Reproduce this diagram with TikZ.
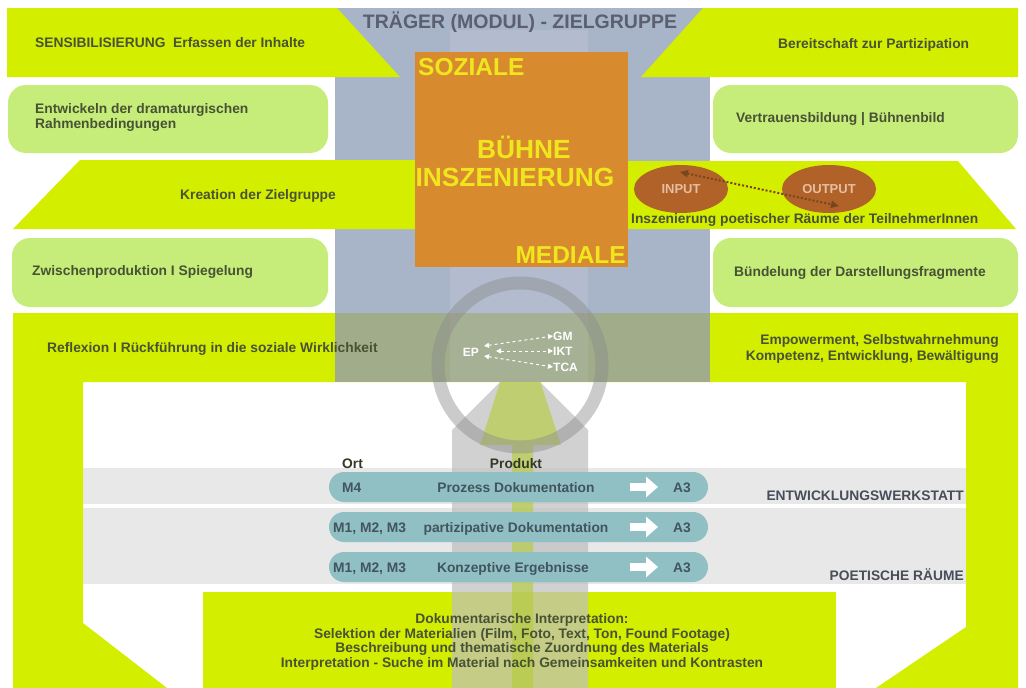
\documentclass[tikz,border=0pt]{standalone}
\usepackage{fontspec}
\setmainfont{Liberation Sans}
\usetikzlibrary{arrows.meta,shapes.geometric}
\definecolor{ygreen}{RGB}{212,238,0}
\definecolor{lgreen}{RGB}{198,236,122}
\definecolor{bband}{RGB}{168,180,200}
\definecolor{bbandlight}{RGB}{178,188,206}
\definecolor{overlapc}{RGB}{160,172,138}
\definecolor{overlaplight}{RGB}{166,176,148}
\definecolor{orangebox}{RGB}{216,138,46}
\definecolor{ytext}{RGB}{240,230,30}
\definecolor{dtext}{RGB}{72,82,52}
\definecolor{titletext}{RGB}{90,96,112}
\definecolor{brownell}{RGB}{176,98,40}
\definecolor{iotext}{RGB}{232,190,160}
\definecolor{dotc}{RGB}{120,70,30}
\definecolor{tealc}{RGB}{144,192,196}
\definecolor{tealtext}{RGB}{66,84,92}
\definecolor{lgrey}{RGB}{232,232,232}
\definecolor{colgrey}{RGB}{190,190,190}
\definecolor{arrowgreen}{RGB}{180,205,50}
\definecolor{ringgrey}{RGB}{140,140,140}
\begin{document}
\begin{tikzpicture}[x=1pt,y=-1pt,
  txt/.style={font=\bfseries\fontsize{13.8}{15}\selectfont, text=dtext, inner sep=0pt},
  bigt/.style={font=\bfseries\fontsize{24.5}{26}\selectfont, text=ytext, inner sep=0pt},
  bigger/.style={bigt, font=\bfseries\fontsize{26.3}{28}\selectfont},
  titlet/.style={font=\bfseries\fontsize{19.5}{22}\selectfont, text=titletext, inner sep=0pt},
  rbox/.style={fill=lgreen, rounded corners=18pt},
  pill/.style={fill=tealc, rounded corners=15pt},
  pilltxt/.style={font=\bfseries\fontsize{13.8}{15}\selectfont, text=tealtext, inner sep=0pt},
  greytxt/.style={font=\bfseries\fontsize{13.8}{15}\selectfont, text=titletext!80!black, inner sep=0pt},
  bottxt/.style={font=\bfseries\fontsize{13.8}{15}\selectfont, text=dtext, inner sep=0pt},
  ell/.style={ellipse, fill=brownell, minimum width=94pt, minimum height=48pt, inner sep=0pt,
     font=\bfseries\fontsize{13}{14}\selectfont, text=iotext},
  wtxt/.style={font=\bfseries\fontsize{12}{13}\selectfont, text=white, inner sep=0pt},
  blockarrow/.style={white, line width=8pt, -{Triangle[length=12pt,width=20pt]}},
  dasharrow/.style={white, dashed, line width=1pt, {Triangle[length=5pt,width=5pt]}-{Triangle[length=5pt,width=5pt]}}
]
\useasboundingbox (0,0) rectangle (1026,688);
\fill[white] (0,0) rectangle (1026,688);

% grey bars
\fill[lgrey] (83,468) rectangle (966,504);
\fill[lgrey] (83,508) rectangle (966,584);
% bottom yellow box
\fill[ygreen] (203,592) rectangle (836,688);

% grey column with arrow-like top (peace sign spokes)
\fill[colgrey, opacity=0.7] (452,688) -- (452,430) -- (520,362) -- (588,430) -- (588,688) -- cycle;
% yellow-green arrow
\fill[arrowgreen, opacity=0.6] (512,688) -- (512,445) -- (480,445) -- (520,320) -- (561,445) -- (533,445) -- (533,688) -- cycle;

% blue band
\fill[bband] (335,8) rectangle (710,313);
\fill[bbandlight] (450,30) rectangle (588,313);

% big reflexion shape
\fill[ygreen] (13,313) -- (1018,313) -- (1018,688) -- (876,688) -- (966,627) -- (966,382)
  -- (83,382) -- (83,623) -- (167,688) -- (13,688) -- cycle;
\fill[overlapc] (335,313) rectangle (710,382);
\fill[overlaplight] (450,313) rectangle (588,382);

% top shapes
\fill[ygreen] (7,8) -- (337,8) -- (400,77) -- (7,77) -- cycle;
\fill[ygreen] (703,8) -- (1018,8) -- (1018,77) -- (641,77) -- cycle;
\fill[rbox] (8,85) rectangle (328,153);
\fill[rbox] (713,85) rectangle (1018,153);
\fill[ygreen] (80,160) -- (420,160) -- (420,229) -- (13,229) -- cycle;
\fill[ygreen] (620,161) -- (958,161) -- (1016,229) -- (620,229) -- cycle;
\fill[rbox] (12,238) rectangle (328,307);
\fill[rbox] (713,238) rectangle (1018,307);

% orange box
\fill[orangebox] (415,52) rectangle (628,267);

% ring
\draw[ringgrey, opacity=0.45, line width=13pt] (520,365) circle[radius=82];

% pills
\fill[pill] (329,472) rectangle (708,502);
\fill[pill] (329,512) rectangle (708,542);
\fill[pill] (329,552) rectangle (708,582);

% texts
\node[titlet, anchor=base] (title) at (520,28) {TRÄGER (MODUL) - ZIELGRUPPE};
\node[txt, anchor=base west] (sens) at (35,47) {SENSIBILISIERUNG\ \ Erfassen der Inhalte};
\node[txt, anchor=base west] (bere) at (778,48) {Bereitschaft zur Partizipation};
\node[txt, anchor=base west] (entw1) at (35,113) {Entwickeln der dramaturgischen};
\node[txt, anchor=base west] (entw2) at (35,128) {Rahmenbedingungen};
\node[txt, anchor=base west] (vert) at (736,122) {Vertrauensbildung | Bühnenbild};
\node[txt, anchor=base west] (krea) at (180,199) {Kreation der Zielgruppe};
\node[txt, anchor=base west] (insz) at (631,223) {Inszenierung poetischer Räume der TeilnehmerInnen};
\node[txt, anchor=base west] (zwis) at (32,275) {Zwischenproduktion I Spiegelung};
\node[txt, anchor=base west] (buen) at (734,276) {Bündelung der Darstellungsfragmente};
\node[txt, anchor=base west] (refl) at (47,352) {Reflexion I Rückführung in die soziale Wirklichkeit};
\node[txt, anchor=base east] (emp1) at (999,344) {Empowerment, Selbstwahrnehmung};
\node[txt, anchor=base east] (emp2) at (999,360) {Kompetenz, Entwicklung, Bewältigung};

\node[bigt, anchor=base west] (soz) at (418,75) {SOZIALE};
\node[bigger, anchor=base] (bue) at (524,158) {BÜHNE};
\node[bigger, anchor=base] (insc) at (515,186) {INSZENIERUNG};
\node[bigt, anchor=base east] (med) at (626,263) {MEDIALE};

% input / output
\node[ell] (inp) at (681,189) {INPUT};
\node[ell] (outp) at (829,189) {OUTPUT};
\coordinate (ioA) at (680,172);
\coordinate (ioB) at (839,206);
\draw[dotc, line width=2pt, dotted, {Triangle[length=8pt,width=7pt]}-{Triangle[length=8pt,width=7pt]}] (ioA) -- (ioB);

% EP
\node[wtxt, anchor=east] (ep) at (479,352) {EP};
\node[wtxt, anchor=west] (gm) at (553,336) {GM};
\node[wtxt, anchor=west] (ikt) at (553,351) {IKT};
\node[wtxt, anchor=west] (tca) at (553,367) {TCA};
\coordinate (ep1) at (484,346);
\coordinate (ep2) at (496,351);
\coordinate (ep3) at (484,356);
\draw[dasharrow] (ep1) -- (gm.west);
\draw[dasharrow] (ep2) -- (ikt.west);
\draw[dasharrow] (ep3) -- (tca.west);

% labels of table
\node[pilltxt, text=dtext!70!black, anchor=base west] (ort) at (342,468) {Ort};
\node[pilltxt, text=dtext!70!black, anchor=base] (prod) at (516,468) {Produkt};

\node[pilltxt, anchor=base west] (m4) at (342,492) {M4};
\node[pilltxt, anchor=base] (p1) at (516,492) {Prozess Dokumentation};
\node[pilltxt, anchor=base] (a31) at (682,492) {A3};
\node[pilltxt, anchor=base west] (m123a) at (333,532) {M1, M2, M3};
\node[pilltxt, anchor=base] (p2) at (516,532) {partizipative Dokumentation};
\node[pilltxt, anchor=base] (a32) at (682,532) {A3};
\node[pilltxt, anchor=base west] (m123b) at (333,572) {M1, M2, M3};
\node[pilltxt, anchor=base] (p3) at (513,572) {Konzeptive Ergebnisse};
\node[pilltxt, anchor=base] (a33) at (682,572) {A3};
\coordinate (ba1s) at (630,487); \coordinate (ba1e) at (658,487);
\coordinate (ba2s) at (630,527); \coordinate (ba2e) at (658,527);
\coordinate (ba3s) at (630,567); \coordinate (ba3e) at (658,567);
\draw[blockarrow] (ba1s) -- (ba1e);
\draw[blockarrow] (ba2s) -- (ba2e);
\draw[blockarrow] (ba3s) -- (ba3e);

\node[greytxt, anchor=base east] (ew) at (964,500) {ENTWICKLUNGSWERKSTATT};
\node[greytxt, anchor=base east] (pr) at (964,580) {POETISCHE RÄUME};

\node[bottxt, anchor=base] (b1) at (522,623) {Dokumentarische Interpretation:};
\node[bottxt, anchor=base] (b2) at (522,638) {Selektion der Materialien (Film, Foto, Text, Ton, Found Footage)};
\node[bottxt, anchor=base] (b3) at (522,652) {Beschreibung und thematische Zuordnung des Materials};
\node[bottxt, anchor=base] (b4) at (522,667) {Interpretation - Suche im Material nach Gemeinsamkeiten und Kontrasten};
\end{tikzpicture}
\end{document}
